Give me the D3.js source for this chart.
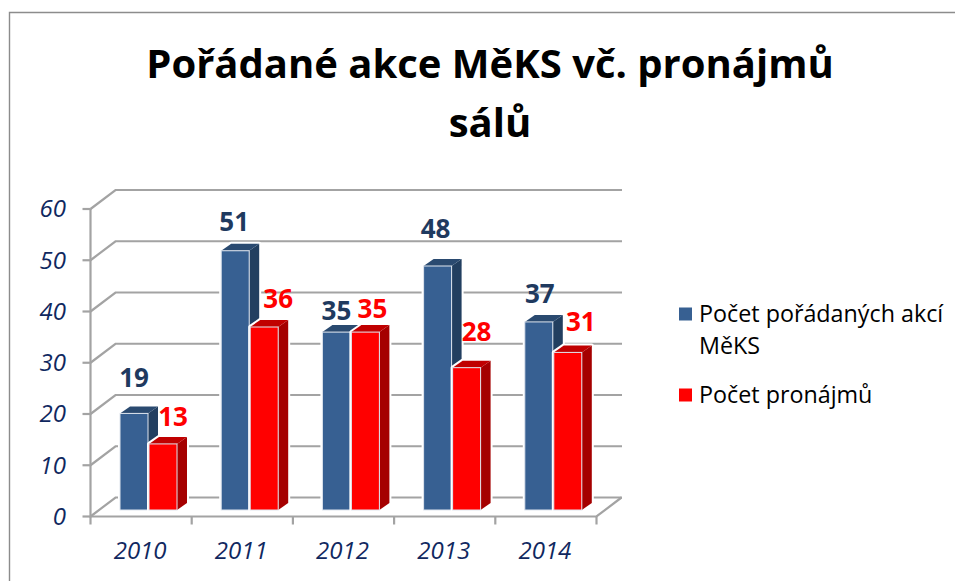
<!DOCTYPE html>
<html><head><meta charset="utf-8">
<script src="https://cdn.jsdelivr.net/npm/d3@7"></script>
<style>html,body{margin:0;padding:0;background:#fff}svg{display:block}text{font-family:"Open Sans",Lato,sans-serif}</style>
</head><body><svg id="c" width="955" height="581"></svg>
<script>
const years = ["2010","2011","2012","2013","2014"];
const events = [19,51,35,48,37];
const rentals = [13,36,35,28,31];
const yTicks = [0,10,20,30,40,50,60];
const legendLabels = [["Počet pořádaných akcí","MěKS"],["Počet pronájmů"]];
const titleLines = ["Pořádané akce MěKS vč. pronájmů","sálů"];

// hand-placed data label nudges of the original (label centre vs. bar top)
const eventNudge = [[0,-36],[-1,-29],[0,-21],[-2,-37],[1,-28]];
const rentalNudge = [[10,-27],[14,-28],[7,-23],[10,-36],[13,-31]];

const svg = d3.select("#c");
const depth = {x:25, y:-19};
const barDepth = {x:10, y:-7};
const x = d3.scaleBand().domain(years).range([90.5,596.5]);
const y = d3.scaleLinear().domain([0,60]).range([516.5,209]);
const yBar = d3.scaleLinear().domain([0,60]).range([510,205]);
const barW = 28, barGap = 1, barInset = 29.5;
const gridC = "#a3a3a3";

// frame
svg.append("path").attr("d","M9.5,581V12.5H955").attr("fill","none").attr("stroke","#8c8c8c").attr("stroke-width",1.4);

// title
svg.append("text").selectAll("tspan").data(titleLines).join("tspan")
  .attr("x",490).attr("y",(d,i)=>i?137:77.5).attr("text-anchor","middle")
  .attr("font-size",40).attr("font-weight",700).attr("fill","#000").text(d=>d);

// walls
const g = svg.append("g").attr("fill","none").attr("stroke",gridC).attr("stroke-width",2.2);
g.selectAll(".grid").data(yTicks).join("path")
  .attr("d",v=>`M${x.range()[0]},${y(v)}L${x.range()[0]+depth.x},${y(v)+depth.y}H${x.range()[1]+depth.x+.5}`);
g.append("path").attr("d",`M${x.range()[0]},${y(60)}V${y(0)}H${x.range()[1]}L${x.range()[1]+depth.x},${y(0)+depth.y}`);
g.selectAll(".yt").data(yTicks).join("path").attr("d",v=>`M${x.range()[0]-8},${y(v)}H${x.range()[0]}`);
g.selectAll(".xt").data(years.concat("end")).join("path")
  .attr("d",(d,i)=>{const px=x.range()[0]+i*x.step();return `M${px},${y(0)}V${y(0)+8}`;});

// bars
function drawBars(vals,offset,front,top,side){
  const b = svg.append("g").selectAll("g").data(vals).join("g");
  const X = (d,i)=>x(years[i])+barInset+offset;
  const poly = (f)=>(d,i)=>f(X(d,i),yBar(d),yBar(0)).map(p=>p.join(",")).join(" ");
  const shape=(l,t,b0)=>[[l,t],[l+barDepth.x,t+barDepth.y],[l+barW+barDepth.x,t+barDepth.y],[l+barW+barDepth.x,b0+barDepth.y],[l+barW,b0],[l,b0]];
  b.append("polygon").attr("points",poly(shape)).attr("fill","#fff").attr("stroke","#fff").attr("stroke-width",4).attr("stroke-linejoin","round");
  b.append("polygon").attr("points",poly((l,t,b0)=>[[l+barW,t],[l+barW+barDepth.x,t+barDepth.y],[l+barW+barDepth.x,b0+barDepth.y],[l+barW,b0]])).attr("fill",side);
  b.append("polygon").attr("points",poly((l,t)=>[[l,t],[l+barDepth.x,t+barDepth.y],[l+barW+barDepth.x,t+barDepth.y],[l+barW,t]])).attr("fill",top);
  b.append("rect").attr("x",X).attr("y",d=>yBar(d)).attr("width",barW).attr("height",d=>yBar(0)-yBar(d))
    .attr("fill",front).attr("stroke","#dfe5ee").attr("stroke-width",1);
}
const blue="#376092", blueTop="#2a4a70", blueSide="#223f60";
const red="#ff0000", redTop="#c00000", redSide="#a50000";
drawBars(events,0,blue,blueTop,blueSide);
drawBars(rentals,barW+barGap,red,redTop,redSide);

// data labels
svg.append("g").selectAll("text").data(events).join("text")
  .attr("x",(d,i)=>x(years[i])+barInset+barW/2+eventNudge[i][0])
  .attr("y",(d,i)=>yBar(d)+eventNudge[i][1]).attr("dy","0.35em")
  .attr("text-anchor","middle").attr("font-size",26).attr("font-weight",700).attr("fill","#1f3a5f").text(d=>d);
svg.append("g").selectAll("text").data(rentals).join("text")
  .attr("x",(d,i)=>x(years[i])+barInset+barW+barGap+barW/2+rentalNudge[i][0])
  .attr("y",(d,i)=>yBar(d)+rentalNudge[i][1]).attr("dy","0.35em")
  .attr("text-anchor","middle").attr("font-size",26).attr("font-weight",700).attr("fill","#ff0000").text(d=>d);

// axis labels
svg.append("g").selectAll("text").data(yTicks).join("text")
  .attr("x",66).attr("y",v=>y(v)).attr("dy","0.35em").attr("text-anchor","end")
  .attr("font-size",24).attr("font-style","italic").attr("fill","#10285f").text(d=>d);
svg.append("g").selectAll("text").data(years).join("text")
  .attr("x",d=>x(d)+x.bandwidth()/2-1).attr("y",558.5).attr("text-anchor","middle")
  .attr("font-size",24).attr("font-style","italic").attr("fill","#10285f").text(d=>d);

// legend
const leg = svg.append("g");
[blue,red].forEach((c,i)=>{
  const top = i?395:314;
  leg.append("rect").attr("x",679).attr("y",top-6.5).attr("width",13).attr("height",13).attr("fill",c);
  legendLabels[i].forEach((t,j)=>leg.append("text").attr("x",699).attr("y",top+8+j*32)
    .attr("font-size",23.3).attr("fill","#000").text(t));
});
</script></body></html>
